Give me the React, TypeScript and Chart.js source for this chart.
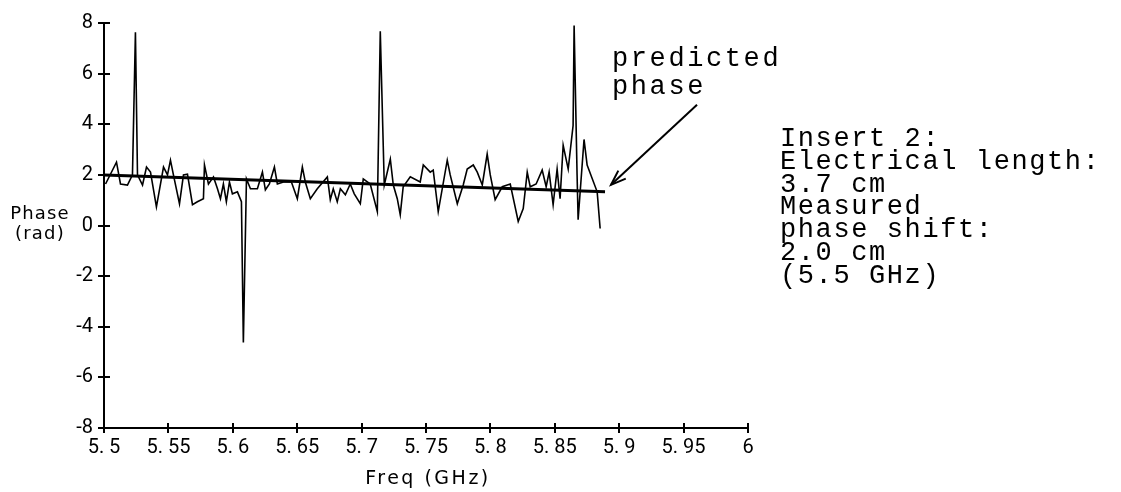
import React, { useEffect, useRef } from "react";
import { Chart, registerables } from "chart.js";

Chart.register(...registerables);

// Measured phase trace (GHz, rad)
const freq = [
  5.5012, 5.5097, 5.5128, 5.5182, 5.5221, 5.5244, 5.526, 5.5299, 5.533, 5.5361,
  5.5407, 5.5462, 5.5493, 5.5516, 5.5539, 5.5586, 5.5617, 5.5648, 5.5687, 5.5725,
  5.5772, 5.578, 5.5811, 5.585, 5.5881, 5.5904, 5.5927, 5.595, 5.5974, 5.5997,
  5.6036, 5.6067, 5.6082, 5.6106, 5.6137, 5.6191, 5.623, 5.6253, 5.6284, 5.6323,
  5.6346, 5.6393, 5.6455, 5.6501, 5.654, 5.6563, 5.6602, 5.6656, 5.6734, 5.6757,
  5.678, 5.6811, 5.6835, 5.6874, 5.6912, 5.6943, 5.699, 5.7013, 5.7067, 5.7122,
  5.7145, 5.7176, 5.7223, 5.7246, 5.7277, 5.73, 5.7323, 5.7378, 5.7455, 5.7479,
  5.7533, 5.7556, 5.7595, 5.7665, 5.7688, 5.7743, 5.7789, 5.782, 5.7867, 5.7898,
  5.7937, 5.7975, 5.7999, 5.8037, 5.8092, 5.8154, 5.8216, 5.8255, 5.8286, 5.8309,
  5.8355, 5.8402, 5.8433, 5.8456, 5.8487, 5.8518, 5.8541, 5.8565, 5.8604, 5.8642,
  5.865, 5.8673, 5.8681, 5.8727, 5.8751, 5.8829, 5.8852,
];
const phase = [
  1.64, 2.5, 1.64, 1.6, 2.0, 7.63, 2.0, 1.6, 2.31, 2.11,
  0.74, 2.31, 2.0, 2.58, 2.0, 0.86, 2.0, 2.03, 0.82, 0.94,
  1.06, 2.39, 1.64, 1.92, 1.45, 1.06, 1.64, 0.94, 1.72, 1.25,
  1.33, 0.94, -4.62, 1.84, 1.45, 1.45, 2.11, 1.41, 1.64, 2.31,
  1.64, 1.72, 1.72, 1.06, 2.31, 1.72, 1.06, 1.45, 1.92, 1.02,
  1.45, 0.94, 1.45, 1.21, 1.64, 1.25, 0.86, 1.84, 1.64, 0.55,
  7.67, 1.6, 2.62, 1.6, 1.06, 0.43, 1.53, 1.92, 1.72, 2.39,
  2.11, 2.19, 0.55, 2.58, 2.0, 0.86, 1.6, 2.23, 2.39, 2.11,
  1.6, 2.82, 2.0, 1.02, 1.53, 1.64, 0.16, 0.67, 2.11, 1.53,
  1.64, 2.19, 1.53, 2.11, 0.82, 2.23, 1.06, 3.17, 2.23, 3.95,
  7.9, 2.0, 0.23, 3.4, 2.39, 1.33, -0.12,
];

// Predicted phase (straight line)
const predFreq = [5.5, 5.889];
const predPhase = [2.0, 1.33];

// Axis ticks
const xTickValues = [5.5, 5.55, 5.6, 5.65, 5.7, 5.75, 5.8, 5.85, 5.9, 5.95, 6];
const xTickLabels = ["5. 5", "5. 55", "5. 6", "5. 65", "5. 7", "5. 75", "5. 8", "5. 85", "5. 9", "5. 95", "6"];
const yTickValues = [-8, -6, -4, -2, 0, 2, 4, 6, 8];
const yTickLabels = ["-8", "-6", "-4", "-2", "0", "2", "4", "6", "8"];

// Texts
const xTitle = "Freq (GHz)";
const yTitleLines = ["Phase", "(rad)"];
const predictedLines = ["predicted", "phase"];
const insertLines = [
  "Insert 2:",
  "Electrical length:",
  "3.7 cm",
  "Measured",
  "phase shift:",
  "2.0 cm",
  "(5.5 GHz)",
];

const annotationPlugin = {
  id: "annotations",
  afterDraw(chart: any) {
    const ctx = chart.ctx;
    const xs = chart.scales.x;
    const ys = chart.scales.y;
    const area = chart.chartArea;
    ctx.save();
    ctx.strokeStyle = "#000";
    ctx.fillStyle = "#000";
    ctx.lineWidth = 2;
    // cross ticks on y axis
    yTickValues.forEach((v) => {
      const py = Math.round(ys.getPixelForValue(v));
      ctx.beginPath();
      ctx.moveTo(area.left - 6, py);
      ctx.lineTo(area.left + 6, py);
      ctx.stroke();
    });
    // cross ticks on x axis
    xTickValues.forEach((v) => {
      const px = Math.round(xs.getPixelForValue(v));
      ctx.beginPath();
      ctx.moveTo(px, area.bottom - 5);
      ctx.lineTo(px, area.bottom + 5);
      ctx.stroke();
    });

    // axis titles
    ctx.textAlign = "center";
    ctx.textBaseline = "alphabetic";
    ctx.font = "19px 'DejaVu Sans'";
    (ctx as any).letterSpacing = "2.5px";
    ctx.fillText(xTitle, 428, 484);
    ctx.font = "18px 'DejaVu Sans'";
    (ctx as any).letterSpacing = "1.2px";
    ctx.fillText(yTitleLines[0], 40, 219);
    ctx.fillText(yTitleLines[1], 40, 239);

    // annotation texts
    ctx.textAlign = "left";
    ctx.font = "27px 'Liberation Mono'";
    (ctx as any).letterSpacing = "2.6px";
    predictedLines.forEach((t, i) => ctx.fillText(t, 612, 66 + i * 28));
    (ctx as any).letterSpacing = "1.6px";
    insertLines.forEach((t, i) => ctx.fillText(t, 780, 146 + i * 22.8));
    (ctx as any).letterSpacing = "0px";

    // arrow to predicted line end
    const tipX = xs.getPixelForValue(predFreq[1]) + 6;
    const tipY = ys.getPixelForValue(predPhase[1]) - 7;
    const fromX = tipX + 86;
    const fromY = tipY - 80;
    ctx.lineWidth = 2;
    ctx.beginPath();
    ctx.moveTo(fromX, fromY);
    ctx.lineTo(tipX, tipY);
    ctx.stroke();
    const ang = Math.atan2(tipY - fromY, tipX - fromX);
    const len = 16;
    ctx.beginPath();
    ctx.moveTo(tipX - len * Math.cos(ang - 0.35), tipY - len * Math.sin(ang - 0.35));
    ctx.lineTo(tipX, tipY);
    ctx.lineTo(tipX - len * Math.cos(ang + 0.35), tipY - len * Math.sin(ang + 0.35));
    ctx.stroke();
    ctx.restore();
  },
};

export default function App() {
  const ref = useRef<HTMLCanvasElement>(null);
  useEffect(() => {
    if (!ref.current) return;
    const chart = new Chart(ref.current, {
      type: "scatter",
      data: {
        datasets: [
          {
            label: "predicted",
            data: predFreq.map((f, i) => ({ x: f, y: predPhase[i] })),
            showLine: true,
            borderColor: "#000",
            borderWidth: 3,
            pointRadius: 0,
            order: 0,
          },
          {
            label: "measured",
            data: freq.map((f, i) => ({ x: f, y: phase[i] })),
            showLine: true,
            borderColor: "#000",
            borderWidth: 1.6,
            pointRadius: 0,
            tension: 0,
            order: 1,
          },
        ],
      },
      options: {
        responsive: false,
        animation: false,
        layout: { padding: { left: 0, top: 19, right: 373, bottom: 0 } },
        plugins: { legend: { display: false }, tooltip: { enabled: false } },
        scales: {
          x: {
            type: "linear",
            min: 5.5,
            max: 6,
            afterBuildTicks: (s: any) => {
              s.ticks = xTickValues.map((v) => ({ value: v }));
            },
            afterFit: (s: any) => {
              s.height = 64;
            },
            grid: { display: false, drawTicks: false },
            border: { display: true, color: "#000", width: 2 },
            ticks: {
              color: "#000",
              padding: 8,
              maxRotation: 0,
              autoSkip: false,
              font: { family: "Roboto", size: 20 },
              callback: (_v: any, i: number) => xTickLabels[i],
            },
          },
          y: {
            type: "linear",
            min: -8,
            max: 8,
            afterBuildTicks: (s: any) => {
              s.ticks = yTickValues.map((v) => ({ value: v }));
            },
            afterFit: (s: any) => {
              s.width = 104;
            },
            grid: { display: false, drawTicks: false },
            border: { display: true, color: "#000", width: 2 },
            ticks: {
              color: "#000",
              padding: 11,
              autoSkip: false,
              font: { family: "Roboto", size: 20 },
              callback: (_v: any, i: number) => yTickLabels[i],
            },
          },
        },
      },
      plugins: [annotationPlugin],
    } as any);
    return () => chart.destroy();
  }, []);
  return (
    <canvas
      ref={ref}
      width={1121}
      height={492}
      style={{ position: "absolute", left: 0, top: 0, display: "block" }}
    />
  );
}
